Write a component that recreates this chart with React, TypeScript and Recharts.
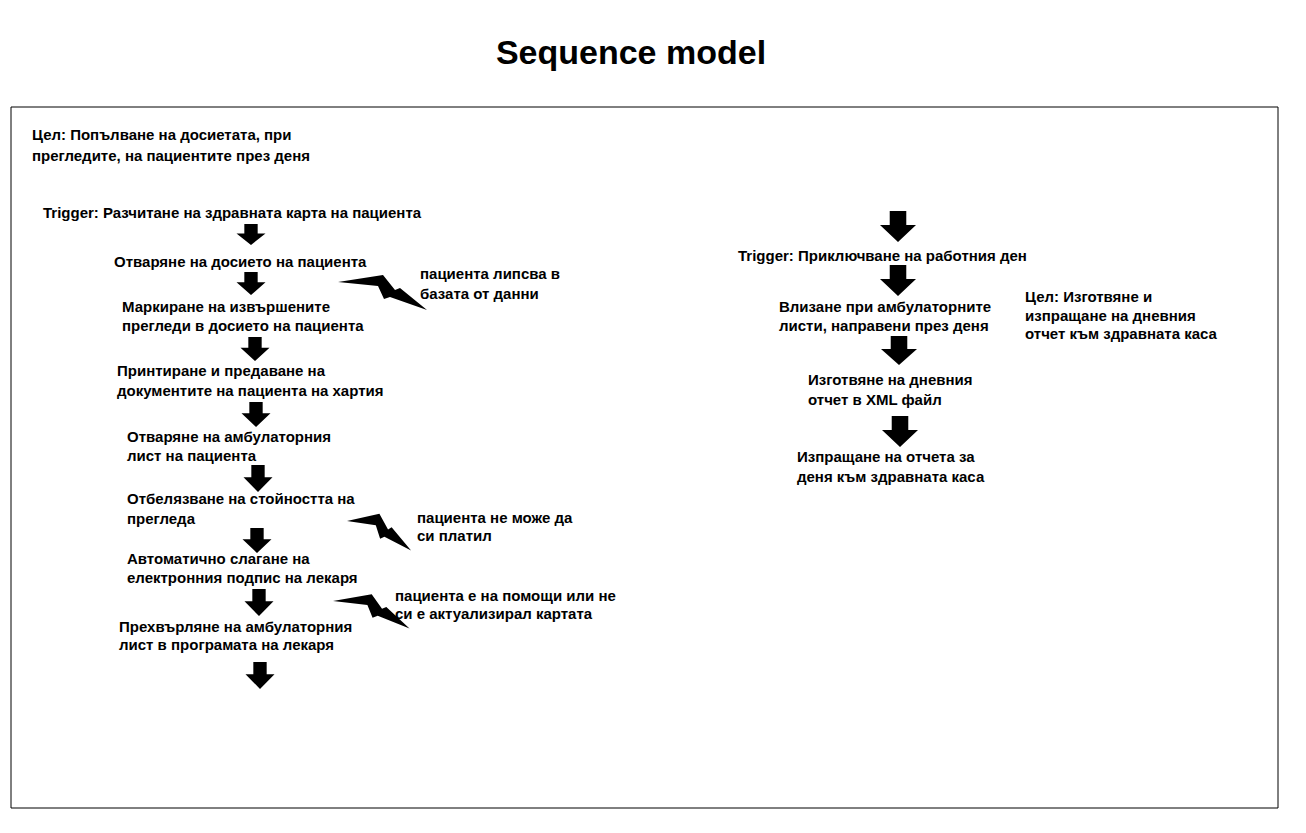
import React from 'react';
import { ScatterChart, Scatter, XAxis, YAxis, ReferenceArea } from 'recharts';

const title = [{ x: 631, y: 64, label: 'Sequence model' }];

const leftText = [
  { x: 32, y: 140, label: 'Цел: Попълване на досиетата, при' },
  { x: 32, y: 161, label: 'прегледите, на пациентите през деня' },
  { x: 43, y: 218, label: 'Trigger: Разчитане на здравната карта на пациента' },
  { x: 114, y: 267, label: 'Отваряне на досието на пациента' },
  { x: 122, y: 312, label: 'Маркиране на извършените' },
  { x: 122, y: 331, label: 'прегледи в досието на пациента' },
  { x: 117, y: 376, label: 'Принтиране и предаване на' },
  { x: 117, y: 396, label: 'документите на пациента на хартия' },
  { x: 127, y: 442, label: 'Отваряне на амбулаторния' },
  { x: 127, y: 461, label: 'лист на пациента' },
  { x: 127, y: 504, label: 'Отбелязване на стойността на' },
  { x: 127, y: 524, label: 'прегледа' },
  { x: 127, y: 564, label: 'Автоматично слагане на' },
  { x: 127, y: 583, label: 'електронния подпис на лекаря' },
  { x: 119, y: 632, label: 'Прехвърляне на амбулаторния' },
  { x: 119, y: 650, label: 'лист в програмата на лекаря' },
];

const problemText = [
  { x: 420, y: 279, label: 'пациента липсва в' },
  { x: 420, y: 299, label: 'базата от данни' },
  { x: 417, y: 523, label: 'пациента не може да' },
  { x: 417, y: 541, label: 'си платил' },
  { x: 395, y: 601, label: 'пациента е на помощи или не' },
  { x: 395, y: 619, label: 'си е актуализирал картата' },
];

const rightText = [
  { x: 738, y: 261, label: 'Trigger: Приключване на работния ден' },
  { x: 779, y: 312, label: 'Влизане при амбулаторните' },
  { x: 779, y: 331, label: 'листи, направени през деня' },
  { x: 1025, y: 302, label: 'Цел: Изготвяне и' },
  { x: 1025, y: 321, label: 'изпращане на дневния' },
  { x: 1025, y: 339, label: 'отчет към здравната каса' },
  { x: 808, y: 385, label: 'Изготвяне на дневния' },
  { x: 808, y: 405, label: 'отчет в XML файл' },
  { x: 797, y: 462, label: 'Изпращане на отчета за' },
  { x: 797, y: 482, label: 'деня към здравната каса' },
];

// x = centre, y = top, len = height, w = head width
const smallArrows = [
  { x: 251, y: 224, len: 21, w: 29 },
  { x: 251, y: 272, len: 23, w: 29 },
  { x: 255, y: 337, len: 24, w: 29 },
  { x: 256, y: 402, len: 25, w: 29 },
  { x: 258, y: 465, len: 27, w: 29 },
  { x: 257, y: 528, len: 25, w: 29 },
  { x: 259, y: 589, len: 27, w: 29 },
  { x: 260, y: 662, len: 27, w: 29 },
];

const bigArrows = [
  { x: 898, y: 211, len: 31, w: 36 },
  { x: 898, y: 265, len: 31, w: 36 },
  { x: 899, y: 336, len: 29, w: 36 },
  { x: 900, y: 416, len: 31, w: 36 },
];

// x, y = left point of the bolt
const bolts = [
  { x: 338, y: 282, sx: 1, sy: 1 },
  { x: 347, y: 521, sx: 0.72, sy: 1.05 },
  { x: 333, y: 601, sx: 0.86, sy: 0.98 },
];

const fontFamily = '"Liberation Sans", Arial, sans-serif';

const TextShape = (size: number, anchor: 'start' | 'middle') => (p: any) => (
  <text x={p.cx} y={p.cy} fontSize={size} fontWeight="bold" fontFamily={fontFamily} fill="#000" textAnchor={anchor}>
    {p.payload.label}
  </text>
);

const ArrowShape = (p: any) => {
  const { cx, cy } = p;
  const { len, w } = p.payload;
  const sw = w * 0.46;
  const hs = cy + len * 0.45;
  const pts = [
    [cx - sw / 2, cy], [cx + sw / 2, cy], [cx + sw / 2, hs], [cx + w / 2, hs],
    [cx, cy + len], [cx - w / 2, hs], [cx - sw / 2, hs],
  ].map((q) => q.join(',')).join(' ');
  return <polygon points={pts} fill="#000" />;
};

const BoltShape = (p: any) => {
  const { cx, cy } = p;
  const { sx, sy } = p.payload;
  const base = [[0, 0], [45, -7], [57, 8], [62, 6], [89, 28], [52, 15], [46, 17], [40, 4]];
  const pts = base.map(([a, b]) => `${cx + a * sx},${cy + b * sy}`).join(' ');
  return <polygon points={pts} fill="#000" />;
};

export default function App() {
  return (
    <div style={{ width: 1290, height: 817 }}>
      <ScatterChart width={1290} height={817} margin={{ top: 0, right: 0, bottom: 0, left: 0 }}>
        <XAxis type="number" dataKey="x" domain={[8, 1298]} hide />
        <YAxis type="number" dataKey="y" domain={[8, 825]} reversed hide />
        <ReferenceArea x1={11} x2={1278} y1={107} y2={808} fill="none" stroke="#000" strokeWidth={1} />
        <Scatter data={title} shape={TextShape(34, 'middle')} isAnimationActive={false} />
        <Scatter data={leftText} shape={TextShape(15, 'start')} isAnimationActive={false} />
        <Scatter data={problemText} shape={TextShape(15, 'start')} isAnimationActive={false} />
        <Scatter data={rightText} shape={TextShape(15, 'start')} isAnimationActive={false} />
        <Scatter data={smallArrows} shape={ArrowShape} isAnimationActive={false} />
        <Scatter data={bigArrows} shape={ArrowShape} isAnimationActive={false} />
        <Scatter data={bolts} shape={BoltShape} isAnimationActive={false} />
      </ScatterChart>
    </div>
  );
}
